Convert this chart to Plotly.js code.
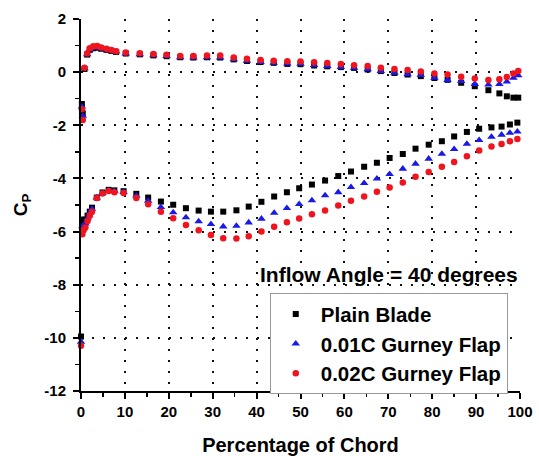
<!DOCTYPE html>
<html><head><meta charset="utf-8">
<script src="https://cdn.plot.ly/plotly-3.0.1.min.js"></script>
<style>html,body{margin:0;padding:0;background:#fff}#chart{width:539px;height:456px}</style>
</head><body><div id="chart"></div>
<script>
// Percentage of chord positions (pressure side / suction side)
const xUpper = [0.2, 0.4, 0.8, 1.4, 2.0, 2.8, 3.7, 4.6, 5.8, 6.9, 8.0, 10.2, 13.4, 16.5, 19.5, 22.6, 25.6, 28.7, 31.7, 34.8, 37.8, 40.9, 43.9, 47.0, 50.0, 53.1, 56.1, 59.2, 62.2, 65.3, 68.3, 71.4, 74.4, 77.4, 80.5, 83.5, 86.6, 89.7, 92.8, 95.3, 97.0, 98.5, 99.6];
const xLower = [0.0, 0.3, 0.6, 1.0, 1.5, 2.0, 2.5, 3.6, 4.9, 6.3, 7.6, 9.7, 12.6, 15.3, 18.2, 21.0, 23.9, 26.8, 29.6, 32.4, 35.4, 38.2, 41.1, 44.0, 46.9, 49.7, 52.6, 55.6, 58.6, 61.5, 64.5, 67.4, 70.3, 73.3, 76.2, 79.2, 82.2, 85.0, 87.9, 90.7, 93.5, 95.8, 97.7, 99.4];

// Cp values
const plainUpper = [-1.2, -1.55, 0.12, 0.66, 0.84, 0.90, 0.92, 0.88, 0.84, 0.80, 0.76, 0.70, 0.67, 0.63, 0.60, 0.56, 0.55, 0.56, 0.55, 0.48, 0.42, 0.38, 0.35, 0.31, 0.30, 0.25, 0.22, 0.19, 0.16, 0.10, 0.04, -0.03, -0.09, -0.15, -0.22, -0.29, -0.40, -0.53, -0.68, -0.80, -0.91, -0.96, -0.96];
const gurney01Upper = [-1.3, -1.65, 0.14, 0.67, 0.86, 0.92, 0.93, 0.89, 0.85, 0.81, 0.77, 0.70, 0.67, 0.63, 0.60, 0.56, 0.55, 0.56, 0.55, 0.48, 0.42, 0.38, 0.35, 0.32, 0.31, 0.26, 0.23, 0.19, 0.16, 0.10, 0.04, -0.03, -0.08, -0.11, -0.22, -0.30, -0.34, -0.45, -0.47, -0.45, -0.36, -0.22, -0.12];
const gurney02Upper = [-1.4, -1.8, 0.17, 0.70, 0.90, 0.97, 0.98, 0.93, 0.88, 0.83, 0.79, 0.74, 0.71, 0.68, 0.65, 0.61, 0.61, 0.63, 0.63, 0.55, 0.50, 0.46, 0.43, 0.41, 0.40, 0.37, 0.34, 0.31, 0.26, 0.23, 0.17, 0.12, 0.08, 0.02, -0.05, -0.09, -0.17, -0.24, -0.30, -0.27, -0.18, -0.05, 0.04];

const plainLower = [-9.95, -5.55, -5.65, -5.55, -5.4, -5.25, -5.1, -4.72, -4.53, -4.43, -4.45, -4.48, -4.58, -4.72, -4.87, -4.99, -5.12, -5.21, -5.25, -5.25, -5.20, -5.06, -4.88, -4.68, -4.52, -4.37, -4.23, -4.08, -3.91, -3.74, -3.56, -3.41, -3.23, -3.08, -2.88, -2.73, -2.60, -2.42, -2.25, -2.13, -2.08, -2.05, -1.97, -1.90];
const gurney01Lower = [-10.15, -5.8, -5.85, -5.7, -5.5, -5.3, -5.15, -4.72, -4.55, -4.45, -4.47, -4.51, -4.65, -4.84, -5.08, -5.28, -5.47, -5.62, -5.72, -5.81, -5.79, -5.66, -5.52, -5.30, -5.12, -4.97, -4.83, -4.64, -4.52, -4.33, -4.18, -4.01, -3.84, -3.64, -3.45, -3.26, -3.08, -2.90, -2.70, -2.56, -2.44, -2.36, -2.29, -2.24];
const gurney02Lower = [-10.3, -6.1, -5.95, -5.85, -5.6, -5.4, -5.25, -4.74, -4.57, -4.47, -4.52, -4.55, -4.74, -4.97, -5.25, -5.50, -5.75, -5.95, -6.13, -6.25, -6.26, -6.18, -6.00, -5.82, -5.65, -5.51, -5.35, -5.21, -5.02, -4.84, -4.68, -4.50, -4.34, -4.15, -3.94, -3.76, -3.56, -3.38, -3.17, -2.95, -2.80, -2.70, -2.60, -2.52];

const seriesNames = ['Plain Blade', '0.01C Gurney Flap', '0.02C Gurney Flap'];
const xTickVals = [0, 10, 20, 30, 40, 50, 60, 70, 80, 90, 100];
const xTickText = ['0', '10', '20', '30', '40', '50', '60', '70', '80', '90', '100'];
const yTickVals = [-12, -10, -8, -6, -4, -2, 0, 2];
const yTickText = ['-12', '-10', '-8', '-6', '-4', '-2', '0', '2'];

const FONT = 'Liberation Sans, Arial, Helvetica, sans-serif';
const styles = [
  {symbol: 'square', color: '#000000', size: 6},
  {symbol: 'triangle-up', color: '#1a1ae6', size: 7.5},
  {symbol: 'circle', color: '#f0141e', size: 6.5}
];
const uppers = [plainUpper, gurney01Upper, gurney02Upper];
const lowers = [plainLower, gurney01Lower, gurney02Lower];

const traces = seriesNames.map((name, i) => ({
  type: 'scatter', mode: 'markers', name: name,
  x: xUpper.concat(xLower),
  y: uppers[i].concat(lowers[i]),
  cliponaxis: false,
  marker: {symbol: styles[i].symbol, color: styles[i].color, size: styles[i].size, line: {width: 0}}
}));

const layout = {
  width: 539, height: 456,
  margin: {l: 81, r: 19, t: 19, b: 65},
  paper_bgcolor: '#fff', plot_bgcolor: '#fff',
  font: {family: FONT, color: '#000'},
  showlegend: true,
  xaxis: {
    range: [0, 100], tickvals: xTickVals, ticktext: xTickText,
    showline: true, linecolor: '#000', linewidth: 2,
    ticks: 'outside', ticklen: 6, tickwidth: 2, tickcolor: '#000',
    minor: {dtick: 5, ticks: 'outside', ticklen: 4, tickwidth: 1.5, tickcolor: '#000'},
    showgrid: true, gridcolor: '#111', gridwidth: 2, griddash: '2px,9px',
    zeroline: false,
    tickfont: {size: 15, weight: 'bold'},
    title: {text: 'Percentage of Chord', font: {size: 20, weight: 'bold'}, standoff: 22}
  },
  yaxis: {
    range: [-12, 2], tickvals: yTickVals, ticktext: yTickText,
    showline: true, linecolor: '#000', linewidth: 2,
    ticks: 'outside', ticklen: 6, tickwidth: 2, tickcolor: '#000',
    minor: {dtick: 1, ticks: 'outside', ticklen: 4, tickwidth: 1.5, tickcolor: '#000'},
    showgrid: true, gridcolor: '#111', gridwidth: 2, griddash: '2px,9px',
    zeroline: false,
    tickfont: {size: 15, weight: 'bold'},
    ticklabelstandoff: 4,
    title: {text: 'C<sub>P</sub>', font: {size: 19, weight: 'bold'}, standoff: 12}
  },
  legend: {
    x: 0.43, y: 0.263, xanchor: 'left', yanchor: 'top',
    bgcolor: '#fff', bordercolor: '#999', borderwidth: 1,
    font: {size: 20.5, weight: 'bold', color: '#000'},
    itemwidth: 40
  },
  annotations: [{
    x: 100, y: -7.63, xref: 'x', yref: 'y', xanchor: 'right', yanchor: 'middle',
    text: 'Inflow Angle = 40 degrees', showarrow: false,
    font: {size: 21, weight: 'bold', color: '#000'}
  }]
};

Plotly.newPlot('chart', traces, layout, {staticPlot: true, displayModeBar: false});
</script>
</body></html>
